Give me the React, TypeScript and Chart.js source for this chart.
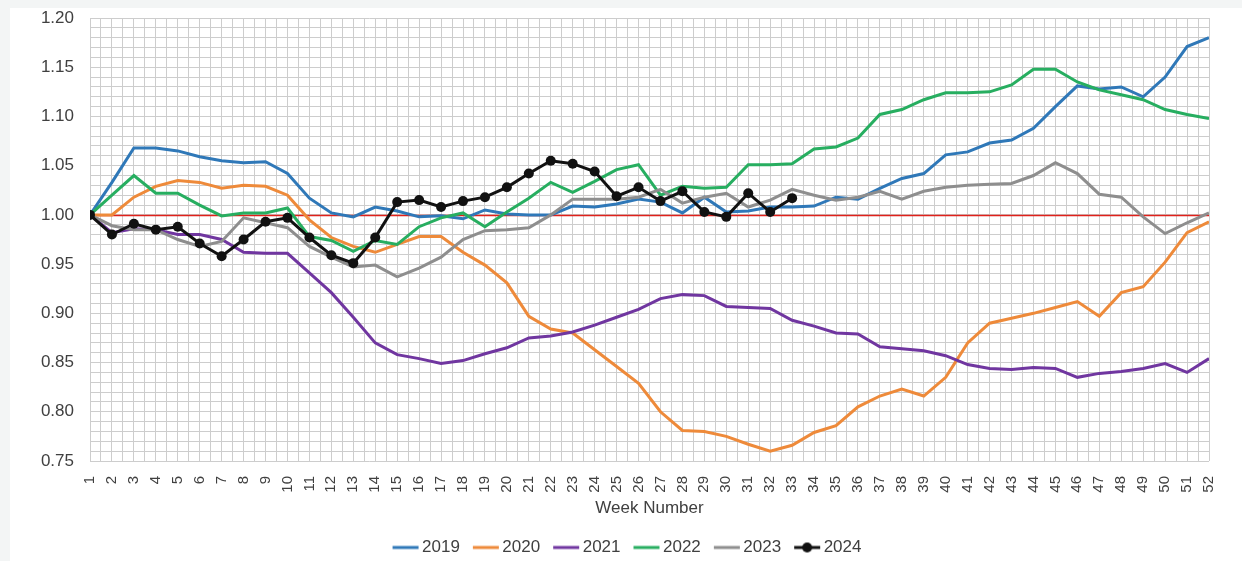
import { useEffect, useRef } from "react";
import { Chart, registerables } from "chart.js";

Chart.register(...registerables);

// Week numbers along the x axis
const weeks = [
  1, 2, 3, 4, 5, 6, 7, 8, 9, 10, 11, 12, 13, 14, 15, 16, 17, 18, 19, 20, 21, 22, 23, 24, 25, 26,
  27, 28, 29, 30, 31, 32, 33, 34, 35, 36, 37, 38, 39, 40, 41, 42, 43, 44, 45, 46, 47, 48, 49, 50,
  51, 52,
];

// Indexed values per week (week 1 = 1.00)
const s2019 = [
  1.0, 1.033, 1.068, 1.068, 1.065, 1.059, 1.055, 1.053, 1.054, 1.042,
  1.017, 1.002, 0.998, 1.008, 1.004, 0.998, 0.999, 0.996, 1.005, 1.001,
  1.0, 1.0, 1.009, 1.008, 1.011, 1.016, 1.013, 1.002, 1.018, 1.003,
  1.004, 1.008, 1.008, 1.009, 1.018, 1.016, 1.027, 1.037, 1.042, 1.061,
  1.064, 1.073, 1.076, 1.088, 1.11, 1.131, 1.128, 1.13, 1.12, 1.14,
  1.171, 1.18,
];
const s2020 = [
  1.0, 1.0, 1.018, 1.029, 1.035, 1.033, 1.027, 1.03, 1.029, 1.02,
  0.995, 0.977, 0.968, 0.962, 0.97, 0.978, 0.978, 0.962, 0.949, 0.931,
  0.897, 0.884, 0.88, 0.863, 0.846, 0.829, 0.8, 0.781, 0.78, 0.775,
  0.767, 0.76, 0.766, 0.779, 0.786, 0.805, 0.816, 0.823, 0.816, 0.835,
  0.87, 0.89, 0.895, 0.9, 0.906, 0.912, 0.897, 0.921, 0.927, 0.952,
  0.982, 0.993,
];
const s2021 = [
  1.0, 0.982, 0.986, 0.985, 0.98, 0.98, 0.975, 0.962, 0.961, 0.961,
  0.941, 0.921, 0.896, 0.87, 0.858, 0.854, 0.849, 0.852, 0.859, 0.865,
  0.875, 0.877, 0.881, 0.888, 0.896, 0.904, 0.915, 0.919, 0.918, 0.907,
  0.906, 0.905, 0.893, 0.887, 0.88, 0.879, 0.866, 0.864, 0.862, 0.857,
  0.848, 0.844, 0.843, 0.845, 0.844, 0.835, 0.839, 0.841, 0.844, 0.849,
  0.84, 0.854,
];
const s2022 = [
  1.0, 1.02, 1.04, 1.022, 1.022, 1.01, 0.999, 1.002, 1.002, 1.007,
  0.978, 0.974, 0.963, 0.974, 0.97, 0.988, 0.997, 1.002, 0.988, 1.003,
  1.017, 1.033, 1.023, 1.034, 1.046, 1.051, 1.02, 1.029, 1.027, 1.028,
  1.051, 1.051, 1.052, 1.067, 1.069, 1.078, 1.102, 1.107, 1.117, 1.124,
  1.124, 1.125, 1.132, 1.148, 1.148, 1.135, 1.127, 1.122, 1.117, 1.107,
  1.102, 1.098,
];
const s2023 = [
  1.0, 0.989, 0.985, 0.985, 0.975, 0.968, 0.973, 0.997, 0.992, 0.987,
  0.968, 0.957, 0.947, 0.949, 0.937, 0.946, 0.957, 0.975, 0.984, 0.985,
  0.987, 1.0, 1.016, 1.016, 1.016, 1.018, 1.026, 1.012, 1.018, 1.022,
  1.008, 1.015, 1.026, 1.02, 1.015, 1.018, 1.024, 1.016, 1.024, 1.028,
  1.03, 1.031, 1.032, 1.04, 1.053, 1.042, 1.021, 1.018, 0.998, 0.981,
  0.992, 1.002,
];
const s2024 = [
  1.0, 0.98, 0.991, 0.985, 0.988, 0.971, 0.958, 0.975, 0.993, 0.997,
  0.977, 0.959, 0.951, 0.977, 1.013, 1.015, 1.008, 1.014, 1.018, 1.028,
  1.042, 1.055, 1.052, 1.044, 1.019, 1.028, 1.014, 1.024, 1.003, 0.998,
  1.022, 1.003, 1.017,
];

const seriesLabels = ["2019", "2020", "2021", "2022", "2023", "2024"];
const seriesValues = [s2019, s2020, s2021, s2022, s2023, s2024];
const seriesColors = ["#2f78b8", "#ee8a3a", "#7036a0", "#27ae60", "#8e8e8e", "#111111"];

// Axis range and reference line
const yMin = 0.75;
const yMax = 1.2;
const baseline = 1.0;

const TEXT = "#404040";
const FONT = "'Liberation Sans', Arial, sans-serif";

// Legend sample: a short line, with a dot for the current year
function legendSwatch(color: string, withDot: boolean): HTMLCanvasElement {
  const c = document.createElement("canvas");
  c.width = 28;
  c.height = 12;
  const g = c.getContext("2d")!;
  g.strokeStyle = color;
  g.lineWidth = 3;
  g.beginPath();
  g.moveTo(1, 6);
  g.lineTo(27, 6);
  g.stroke();
  if (withDot) {
    g.fillStyle = color;
    g.beginPath();
    g.arc(14, 6, 5, 0, Math.PI * 2);
    g.fill();
  }
  return c;
}

const baselinePlugin = {
  id: "baselineLine",
  beforeDatasetsDraw(chart: any) {
    const { ctx, chartArea, scales } = chart;
    const y = Math.round(scales.y.getPixelForValue(baseline)) + 0.5;
    ctx.save();
    ctx.strokeStyle = "#e0201a";
    ctx.lineWidth = 1.5;
    ctx.beginPath();
    ctx.moveTo(chartArea.left, y);
    ctx.lineTo(chartArea.right, y);
    ctx.stroke();
    ctx.restore();
  },
};

// Nudge the legend row to its place under the plot
const legendShiftPlugin = {
  id: "legendShift",
  afterLayout(chart: any) {
    const lg = chart.legend;
    if (!lg) return;
    lg.left += 22;
    lg.right += 22;
    lg.top += 5;
    lg.bottom += 5;
  },
};

export default function App() {
  const canvasRef = useRef<HTMLCanvasElement | null>(null);

  useEffect(() => {
    document.body.style.margin = "0";
    const canvas = canvasRef.current;
    if (!canvas) return;

    const swatches = seriesLabels.map((_, i) =>
      legendSwatch(seriesColors[i], i === seriesLabels.length - 1)
    );

    const datasets = seriesLabels.map((label, i) => {
      const isCurrent = i === seriesLabels.length - 1;
      return {
        label,
        data: seriesValues[i].map((v, k) => ({ x: weeks[k], y: v })),
        borderColor: seriesColors[i],
        backgroundColor: seriesColors[i],
        borderWidth: 3,
        pointRadius: isCurrent ? 5 : 0,
        pointBorderWidth: 0,
        pointBackgroundColor: seriesColors[i],
        pointStyle: "circle",
        tension: 0,
        order: seriesLabels.length - i,
      };
    });

    const chart = new Chart(canvas, {
      type: "line",
      data: { datasets },
      options: {
        animation: false,
        responsive: false,
        maintainAspectRatio: false,
        events: [],
        layout: { autoPadding: false, padding: { top: 18, right: 27, left: 0, bottom: 0 } },
        scales: {
          x: {
            type: "linear",
            min: 1,
            max: 52,
            afterBuildTicks(scale: any) {
              const t = [];
              for (let v = 2; v <= 104; v++) t.push({ value: v / 2 });
              scale.ticks = t;
            },
            afterFit(scale: any) {
              scale.height = 55;
            },
            ticks: {
              autoSkip: false,
              maxRotation: 90,
              minRotation: 90,
              padding: 15,
              color: TEXT,
              font: { family: FONT, size: 15 },
              callback: (v: any) => (Number.isInteger(v) ? String(v) : ""),
            },
            grid: { color: "#cdcdcd", drawTicks: false, lineWidth: 1 },
            border: { display: false },
            title: {
              display: true,
              text: "Week Number",
              color: TEXT,
              font: { family: FONT, size: 17 },
              padding: { top: 0, bottom: -3 },
            },
          },
          y: {
            type: "linear",
            min: yMin,
            max: yMax,
            afterBuildTicks(scale: any) {
              const t = [];
              for (let v = 75; v <= 120; v++) t.push({ value: v / 100 });
              scale.ticks = t;
            },
            afterFit(scale: any) {
              scale.width = 90;
            },
            ticks: {
              autoSkip: false,
              padding: 0,
              color: TEXT,
              font: { family: FONT, size: 17 },
              callback: (v: any) =>
                Math.round(v * 100) % 5 === 0 ? Number(v).toFixed(2) : "",
            },
            grid: {
              drawTicks: true,
              tickLength: 16,
              tickColor: "rgba(0,0,0,0)",
              color: "#cdcdcd",
            },
            border: { display: false },
          },
        },
        plugins: {
          tooltip: { enabled: false },
          legend: {
            position: "bottom",
            labels: {
              usePointStyle: true,
              pointStyleWidth: 16,
              padding: 18,
              color: TEXT,
              font: { family: FONT, size: 17 },
              sort: (a: any, b: any) => a.datasetIndex - b.datasetIndex,
              generateLabels: (ch: any) => {
                const items = Chart.defaults.plugins.legend.labels.generateLabels(ch);
                return items.map((it: any) => ({
                  ...it,
                  pointStyle: swatches[it.datasetIndex],
                }));
              },
            },
          },
        },
      },
      plugins: [baselinePlugin, legendShiftPlugin],
    } as any);

    return () => chart.destroy();
  }, []);

  return (
    <div style={{ position: "fixed", inset: 0, background: "#f3f5f5" }}>
      <div
        style={{
          position: "absolute",
          left: 10,
          top: 8,
          right: 0,
          bottom: 0,
          background: "#ffffff",
        }}
      />
      <canvas
        ref={canvasRef}
        width={1242}
        height={561}
        style={{ position: "absolute", left: 0, top: 0, width: 1242, height: 561 }}
      />
    </div>
  );
}
